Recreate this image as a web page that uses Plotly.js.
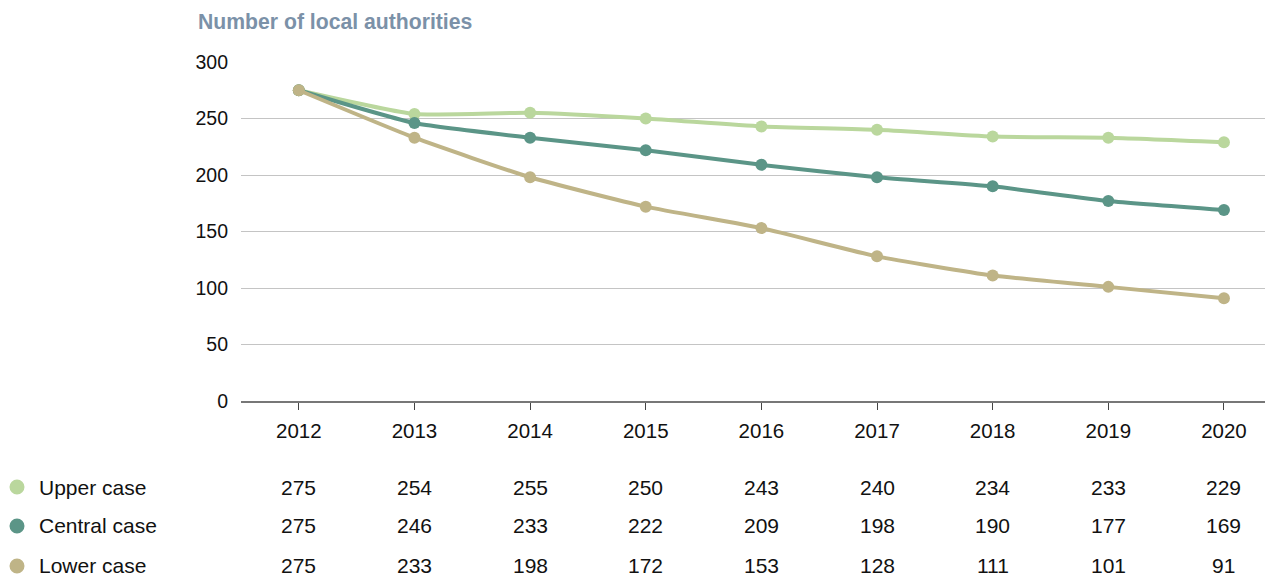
<!DOCTYPE html>
<html>
<head>
<meta charset="utf-8">
<script src="https://cdn.plot.ly/plotly-3.0.1.min.js"></script>
<style>html,body{margin:0;padding:0;background:#fff;}#chart{width:1265px;height:577px;}</style>
</head>
<body>
<div id="chart"></div>
<script>
const years = ["2012","2013","2014","2015","2016","2017","2018","2019","2020"];
const seriesNames = ["Upper case","Central case","Lower case"];
const upper = [275,254,255,250,243,240,234,233,229];
const central = [275,246,233,222,209,198,190,177,169];
const lower = [275,233,198,172,153,128,111,101,91];
const yTicks = [0,50,100,150,200,250,300];
const colors = ["#bad79d","#5b9587","#bfb487"];

const allSeries = [upper, central, lower];
const xIdx = years.map((y,i)=>i);
const traces = [];
allSeries.forEach((s,k)=>{
  traces.push({
    x: xIdx, y: s, type:'scatter', mode:'lines+markers', name: seriesNames[k],
    line:{color:colors[k], width:4, shape:'spline', smoothing:0.5},
    marker:{color:colors[k], size:12},
    hoverinfo:'skip', showlegend:false
  });
});

const FONT = 'Liberation Sans, Arial, sans-serif';
const rowY = [-0.2537,-0.3687,-0.4867];
const plotW = 1265-241, plotH = 339;
const annotations = [{
  text:'<b>Number of local authorities</b>', xref:'paper', yref:'paper',
  x:(196-241)/plotW, y:(401-22)/plotH, xanchor:'left', yanchor:'middle', showarrow:false,
  font:{family:FONT, size:21.2, color:'#7b91a8'}
}];
const shapes = [];
allSeries.forEach((s,k)=>{
  annotations.push({text:seriesNames[k], xref:'paper', yref:'paper', x:(37-241)/plotW, y:rowY[k],
    xanchor:'left', yanchor:'middle', showarrow:false,
    font:{family:FONT, size:21, color:'#111'}});
  s.forEach((v,i)=>{
    annotations.push({text:String(v), xref:'x', yref:'paper', x:i, y:rowY[k],
      xanchor:'center', yanchor:'middle', showarrow:false,
      font:{family:FONT, size:21, color:'#111'}});
  });
});
rowY.forEach((ry,k)=>{
  const cx = (17-241)/plotW, cy = ry;
  const rx = 7.5/plotW, rY = 7.5/plotH;
  shapes.push({type:'circle', xref:'paper', yref:'paper', x0:cx-rx, x1:cx+rx, y0:cy-rY, y1:cy+rY,
    fillcolor:colors[k], line:{width:0}});
});

const layout = {
  width:1265, height:577,
  margin:{l:241, r:0, t:62, b:176},
  paper_bgcolor:'#fff', plot_bgcolor:'#fff',
  font:{family:FONT, size:17, color:'#111'},
  xaxis:{
    tickvals:xIdx, ticktext:years, range:[-0.5, 8.355], showgrid:false, zeroline:false,
    showline:true, linecolor:'#777', linewidth:1.5,
    ticks:'outside', ticklen:7, tickcolor:'#444', tickwidth:1, ticklabelstandoff:4,
    tickfont:{size:20.5, color:'#111'}, fixedrange:true
  },
  yaxis:{
    range:[0,300], tickvals:yTicks, showgrid:true, gridcolor:'#c4c4c4', gridwidth:1,
    zeroline:false, showline:false, ticks:'', ticklabelstandoff:12,
    tickfont:{size:19.5, color:'#111'}, fixedrange:true
  },
  showlegend:false,
  annotations: annotations,
  shapes: shapes
};
Plotly.newPlot('chart', traces, layout, {displayModeBar:false, staticPlot:true});
</script>
</body>
</html>
